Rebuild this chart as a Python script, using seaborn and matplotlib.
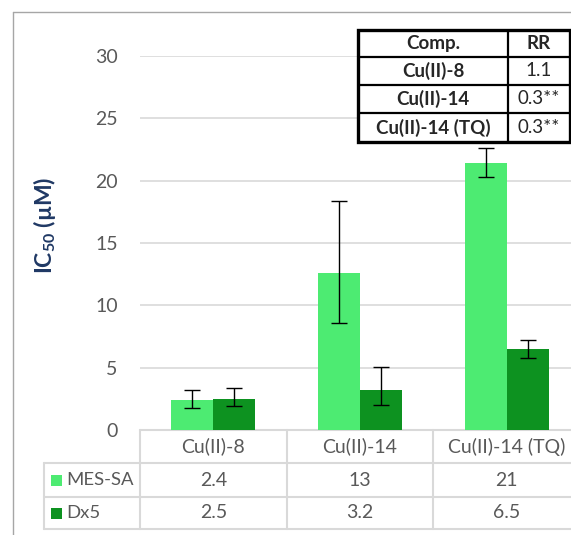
import pandas as pd
import numpy as np
import seaborn as sns
import matplotlib.pyplot as plt
from matplotlib.patches import Rectangle
from matplotlib.lines import Line2D

# # Data

compounds = ["Cu(II)-8", "Cu(II)-14", "Cu(II)-14 (TQ)"]
lines = ["MES-SA", "Dx5"]
mes_sa = [2.4, 12.6, 21.4]
dx5 = [2.5, 3.2, 6.5]
mes_err_lo = [0.6, 4.0, 1.1]
mes_err_hi = [0.8, 5.8, 1.2]
dx5_err_lo = [0.6, 1.2, 0.7]
dx5_err_hi = [0.9, 1.85, 0.7]
yticks = [0, 5, 10, 15, 20, 25, 30]

rr_comp = ["Cu(II)-8", "Cu(II)-14", "Cu(II)-14 (TQ)"]
rr_vals = ["1.1", "0.3**", "0.3**"]

colors = ["#4DEB72", "#0D9220"]
grey_txt = "#595959"
grid_c = "#D9D9D9"

sns.set_style("white")
plt.rcParams['font.family'] = ['Lato', 'DejaVu Sans']
plt.rcParams['mathtext.fontset'] = 'custom'
plt.rcParams['mathtext.rm'] = 'Lato:bold'
plt.rcParams['mathtext.bf'] = 'Lato:bold'
plt.rcParams['mathtext.default'] = 'bf'

df = pd.DataFrame({'comp': compounds * 2,
                   'line': [lines[0]] * 3 + [lines[1]] * 3,
                   'ic50': mes_sa + dx5})

W, H = 571, 535
fig = plt.figure(figsize=(W / 100, H / 100), dpi=100)

# pixel helpers
def fx(px): return px / W
def fy(py): return 1 - py / H

ax_left, ax_right, ax_top, ax_bot = 140, 580, 56, 430
ax = fig.add_axes([fx(ax_left), fy(ax_bot), (ax_right - ax_left) / W, (ax_bot - ax_top) / H])

sns.barplot(data=df, x='comp', y='ic50', hue='line', palette=colors,
            width=0.573, errorbar=None, saturation=1, linewidth=0,
            legend=False, ax=ax, zorder=3)

# error bars from bar positions
n = len(compounds)
bars = ax.patches[:2 * n]
xs = [b.get_x() + b.get_width() / 2 for b in bars]
vals = mes_sa + dx5
lo = mes_err_lo + dx5_err_lo
hi = mes_err_hi + dx5_err_hi
ax.errorbar(xs, vals, yerr=[lo, hi], fmt='none', ecolor='black',
            elinewidth=1, capsize=5.5, capthick=1, zorder=4)

ax.set_xlim(-0.5, 2.5)
ax.set_ylim(0, 30)
ax.set_yticks(yticks)
ax.set_xticks([])
ax.set_xlabel("")
ax.yaxis.grid(True, color=grid_c, lw=1.2, zorder=0)
ax.set_axisbelow(True)
for s in ax.spines.values():
    s.set_visible(False)
ax.tick_params(axis='y', length=0, pad=16, labelsize=14, labelcolor=grey_txt)

ax.set_ylabel(r"IC$_{\mathbf{50}}$ (µM)", fontsize=16.5, fontweight='bold', color="#1F3864")
ax.yaxis.set_label_coords((58 - ax_left) / (ax_right - ax_left), (ax_bot - 225) / (ax_bot - ax_top))

# data table under the plot
tr = ax.get_xaxis_transform()
hpx = ax_bot - ax_top
def ya(py): return (ax_bot - py) / hpx
leg_x = -0.5 - (ax_left - 44) / ((ax_right - ax_left) / 3)
row_y = [430, 463, 497, 529]
kw = dict(color=grid_c, lw=1.5, transform=tr, clip_on=False)
ax.add_line(Line2D([-0.5, 2.5], [ya(row_y[0])] * 2, **kw))
for y in row_y[1:]:
    ax.add_line(Line2D([leg_x, 2.5], [ya(y)] * 2, **kw))
for x in [-0.5, 0.5, 1.5, 2.5]:
    ax.add_line(Line2D([x, x], [ya(430), ya(529)], **kw))
ax.add_line(Line2D([leg_x, leg_x], [ya(463), ya(529)], **kw))

for i, c in enumerate(compounds):
    ax.text(i, ya(446.5), c, transform=tr, ha='center', va='center',
            fontsize=14, color=grey_txt, clip_on=False)
for r, (name, series, col) in enumerate(zip(lines, [mes_sa, dx5], colors)):
    yc = ya((row_y[r + 1] + row_y[r + 2]) / 2)
    for i, v in enumerate(series):
        ax.text(i, yc, f"{v:.2g}", transform=tr, ha='center', va='center',
                fontsize=14, color=grey_txt, clip_on=False)
    py = (row_y[r + 1] + row_y[r + 2]) / 2
    fig.patches.append(Rectangle((fx(51), fy(py + 5.5)), 11 / W, 11 / H,
                                 transform=fig.transFigure, color=col, lw=0))
    fig.text(fx(66), fy(py), name, ha='left', va='center', fontsize=13.3, color=grey_txt)

# chart outer border
fig.add_artist(Line2D([fx(13), fx(13)], [fy(12), 0], color="#A6A6A6", lw=1))
fig.add_artist(Line2D([fx(13), 1], [fy(12), fy(12)], color="#A6A6A6", lw=1))

# inset RR table
t_l, t_t, t_r, t_b = 358, 30, 570, 142
tax = fig.add_axes([fx(t_l), fy(t_b), (t_r - t_l) / W, (t_b - t_t) / H], zorder=5)
tax.set_xlim(0, t_r - t_l)
tax.set_ylim(t_b - t_t, 0)
tax.axis('off')
tax.add_patch(Rectangle((0, 0), t_r - t_l, t_b - t_t, facecolor='white',
                        edgecolor='black', lw=2.4, clip_on=False))
col_div = 508 - t_l
tax.plot([col_div, col_div], [0, t_b - t_t], color='black', lw=1.6)
for y in [57, 85, 113]:
    tax.plot([0, t_r - t_l], [y - t_t] * 2, color='black', lw=1.6)
rows_c = [(30 + 57) / 2, (57 + 85) / 2, (85 + 113) / 2, (113 + 142) / 2]
c1 = col_div / 2
c2 = (col_div + t_r - t_l) / 2
fs = 13.5
tax.text(c1, rows_c[0] - t_t, "Comp.", ha='center', va='center', fontsize=fs, fontweight='bold')
tax.text(c2, rows_c[0] - t_t, "RR", ha='center', va='center', fontsize=fs, fontweight='bold')
for k, (c, v) in enumerate(zip(rr_comp, rr_vals)):
    tax.text(c1, rows_c[k + 1] - t_t, c, ha='center', va='center', fontsize=fs, fontweight='bold')
    tax.text(c2, rows_c[k + 1] - t_t, v, ha='center', va='center', fontsize=fs)

fig.savefig("out.png", dpi=100)
